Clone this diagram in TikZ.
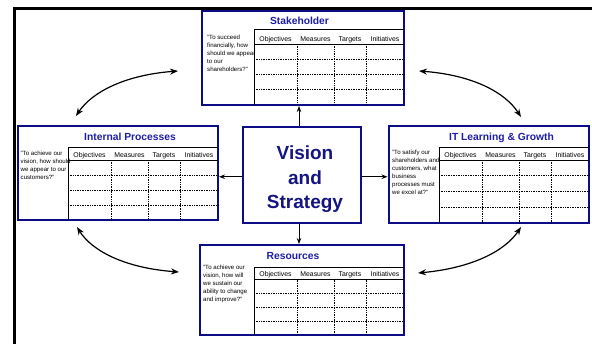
\documentclass[tikz,border=0pt]{standalone}
\usepackage{fontspec}
\setmainfont{Liberation Sans}
\usetikzlibrary{arrows.meta,calc}
\definecolor{boxblue}{RGB}{12,12,135}
\definecolor{titleblue}{RGB}{30,30,165}
\definecolor{visionblue}{RGB}{20,20,130}

\tikzset{
  cardbox/.style={rectangle, draw=boxblue, line width=2pt, fill=white, inner sep=0pt},
  tabsolid/.style={line width=0.8pt, black},
  tabdot/.style={line width=0.7pt, black, densely dotted},
  hdr/.style={font=\fontsize{6.9}{8}\selectfont, anchor=base, inner sep=0pt},
  quotetxt/.style={font=\fontsize{6.1}{8}\selectfont, align=left, anchor=north west, inner sep=0pt},
  ttl/.style={font=\fontsize{10.3}{12}\selectfont\bfseries, text=titleblue, anchor=base, inner sep=0pt},
  arr/.style={-{Stealth[length=6pt,width=4.5pt]}, line width=1pt},
  curvearr/.style={{Stealth[length=8pt,width=6pt]}-{Stealth[length=8pt,width=6pt]}, line width=1.2pt},
  framepen/.style={line width=2.5pt, black}
}

\newcommand{\bsccard}[8]{%
  \node[cardbox, minimum width={#4-#2}, minimum height={#5-#3}] (#1) at ({(#2+#4)/2},{(#3+#5)/2}) {};
  \draw[tabsolid] (#6,#5) -- (#6,#7) -- (#4,#7);
  \draw[tabsolid] (#6,#8) -- (#4,#8);
  \foreach \k in {1,2,3} \draw[tabdot] (#6,{#8+\k*(#5-#8)/4}) -- (#4,{#8+\k*(#5-#8)/4});
  \foreach \dx in {43,80,112} \draw[tabdot] ({#6+\dx},#8) -- ({#6+\dx},#5);
  \node[hdr] (#1-obj) at ({#6+21.5},{#8-2.6}) {Objectives};
  \node[hdr] (#1-mea) at ({#6+61.5},{#8-2.6}) {Measures};
  \node[hdr] (#1-tar) at ({#6+96},{#8-2.6}) {Targets};
  \node[hdr] (#1-ini) at ({(#6+112+#4)/2},{#8-2.6}) {Initiatives};
}

\begin{document}
\begin{tikzpicture}[x=1pt,y=-1pt]
\fill[white] (0,0) rectangle (592,343);
\useasboundingbox (0,0) rectangle (592,343);

% outer frame (cropped)
\draw[framepen] (14.5,360) -- (14.5,8.5) -- (610,8.5);

% cards
\bsccard{stake}{202}{10.5}{404}{105}{254}{29.3}{44}
\node[ttl] (stake-title) at (299.5,24) {Stakeholder};
\node[quotetxt] (stake-q) at (207,34.5) {"To succeed\\financially, how\\should we appear\\to our\\shareholders?"};

\bsccard{inproc}{17.5}{126}{218}{220}{68}{147}{160}
\node[ttl] (inproc-title) at (130,140.7) {Internal Processes};
\node[quotetxt] (inproc-q) at (20.5,150.5) {"To achieve our\\vision, how should\\we appear to our\\customers?"};

\bsccard{itlg}{388.5}{126}{589}{223}{439}{147}{160}
\node[ttl] (itlg-title) at (501.5,140.7) {IT Learning \& Growth};
\node[quotetxt] (itlg-q) at (392,149.5) {"To satisfy our\\shareholders and\\customers, what\\business\\processes must\\we excel at?"};

\bsccard{res}{200}{245}{404}{335}{254}{267}{279.5}
\node[ttl] (res-title) at (293,259.5) {Resources};
\node[quotetxt] (res-q) at (203,264.5) {"To achieve our\\vision, how will\\we sustain our\\ability to change\\and improve?"};

% vision box
\node[cardbox, minimum width=118, minimum height=95.5] (vision) at (302,174.75) {};
\node[font=\fontsize{19}{24.3}\selectfont\bfseries, text=visionblue, align=center, anchor=north, inner sep=0pt] (vision-txt) at (305,146) {Vision\\and\\Strategy};

% straight arrows
\draw[arr] ([xshift=-3pt]vision.north) -- ([xshift=-3pt]vision.north |- stake.south);
\draw[arr] ([xshift=-3pt]vision.south) -- ([xshift=-3pt]vision.south |- res.north);
\draw[arr] ([yshift=-2pt]vision.west) -- ([yshift=-2pt]vision.west -| inproc.east);
\draw[arr] ([yshift=-2pt]vision.east) -- ([yshift=-2pt]vision.east -| itlg.west);

% curved double arrows
\coordinate (ul-a) at (76,116);
\coordinate (ul-b) at (178,71);
\coordinate (ur-a) at (419,71);
\coordinate (ur-b) at (521,117);
\coordinate (ll-a) at (77,227);
\coordinate (ll-b) at (179,272);
\coordinate (lr-a) at (521,227);
\coordinate (lr-b) at (418,273);
\draw[curvearr] (ul-a) .. controls (92,92) and (125,75) .. (ul-b);
\draw[curvearr] (ur-a) .. controls (472,75) and (505,92) .. (ur-b);
\draw[curvearr] (ll-a) .. controls (92,251) and (125,268) .. (ll-b);
\draw[curvearr] (lr-a) .. controls (505,251) and (472,268) .. (lr-b);
\end{tikzpicture}
\end{document}
